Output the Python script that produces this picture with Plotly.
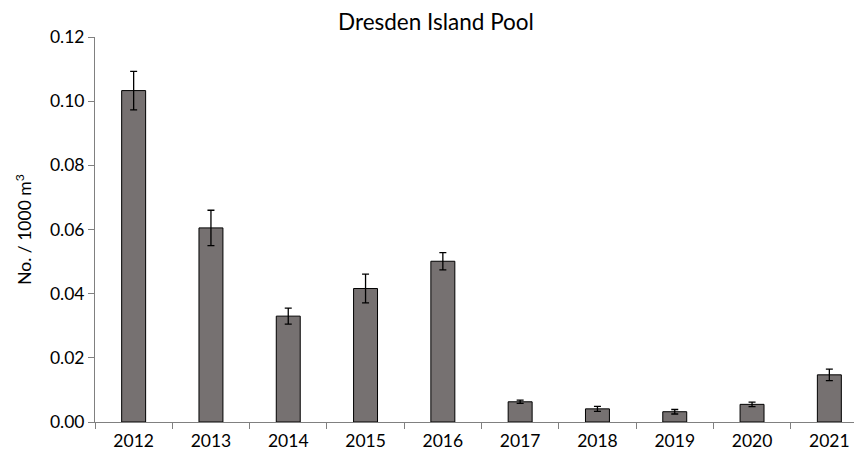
import plotly.graph_objects as go

years = ["2012", "2013", "2014", "2015", "2016", "2017", "2018", "2019", "2020", "2021"]
density = [0.1033, 0.0605, 0.0330, 0.0416, 0.0501, 0.0063, 0.0041, 0.0032, 0.0055, 0.0147]
std_err = [0.0060, 0.0055, 0.0025, 0.0045, 0.0027, 0.0005, 0.0008, 0.0007, 0.0007, 0.0018]

font = "Lato, 'Open Sans', sans-serif"

fig = go.Figure(
    go.Bar(
        x=years,
        y=density,
        width=0.31,
        marker=dict(color="#767171", line=dict(color="#000000", width=1)),
        error_y=dict(type="data", array=std_err, color="#000000", thickness=1.3, width=3.5),
    )
)

# the page body adds an 8px offset, so margins are set relative to that
fig.update_layout(
    width=862,
    height=461,
    paper_bgcolor="white",
    plot_bgcolor="white",
    showlegend=False,
    margin=dict(l=87, r=2, t=29, b=47),
    font=dict(family=font, size=17.5, color="#000000"),
    title=dict(
        text="Dresden Island Pool",
        x=0.4965,
        xref="container",
        xanchor="center",
        y=0.969,
        yref="container",
        yanchor="middle",
        font=dict(size=22.5, family=font),
    ),
)

fig.update_xaxes(
    type="category",
    automargin=False,
    showline=True,
    linecolor="#808080",
    linewidth=1,
    ticks="outside",
    tickson="boundaries",
    ticklen=6,
    tickcolor="#808080",
    showgrid=False,
    ticklabelstandoff=3,
    tickfont=dict(size=17.5),
)

fig.update_yaxes(
    range=[0, 0.12],
    dtick=0.02,
    tickformat=".2f",
    automargin=False,
    showline=True,
    linecolor="#808080",
    linewidth=1,
    ticks="outside",
    ticklen=6,
    tickcolor="#808080",
    showgrid=False,
    zeroline=False,
    tickfont=dict(size=17.5),
    title=dict(text="No. / 1000 m<sup>3</sup>", font=dict(size=17.5), standoff=13),
)

fig.write_html("out.html")
